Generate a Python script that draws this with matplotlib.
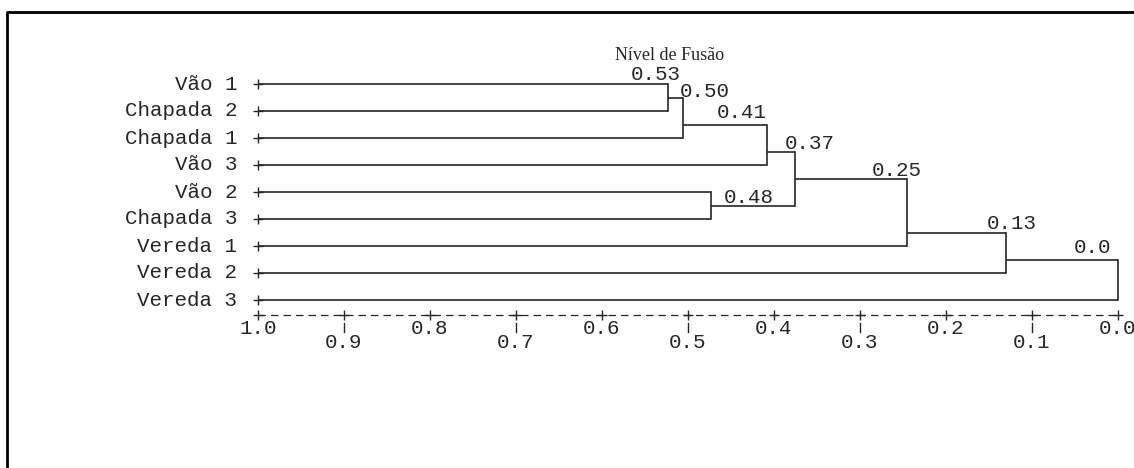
import matplotlib
matplotlib.use("Agg")
import matplotlib.pyplot as plt
from matplotlib.lines import Line2D

# leaves, top to bottom
leaves = ["Vão 1", "Chapada 2", "Chapada 1", "Vão 3", "Vão 2",
          "Chapada 3", "Vereda 1", "Vereda 2", "Vereda 3"]

# merges: (child a, child b) -- new clusters numbered from 9 on
merge_pairs = [(0, 1), (9, 2), (10, 3), (4, 5), (11, 12), (13, 6), (14, 7), (15, 8)]
fusion_levels = [0.523, 0.506, 0.408, 0.473, 0.376, 0.245, 0.130, 0.0]
# level printed next to each merge
fusion_labels = ["0.53", "0.50", "0.41", "0.48", "0.37", "0.25", "0.13", "0.0"]

ticks = [1.0, 0.9, 0.8, 0.7, 0.6, 0.5, 0.4, 0.3, 0.2, 0.1, 0.0]
tick_labels = ["1.0", "0.9", "0.8", "0.7", "0.6", "0.5", "0.4", "0.3", "0.2", "0.1", "0.0"]

# layout: row where each merged cluster leaves its junction (text-mode style)
junction_rows = [0.5, 1.5, 2.5, 4.5, 3.5, 5.5, 6.5, None]
# layout: where each fusion label sits (x in scale units, y in rows)
label_pos = [(0.537, -0.37), (0.480, 0.26), (0.438, 1.07), (0.429, 4.19),
             (0.358, 2.19), (0.257, 3.22), (0.124, 5.15), (0.030, 6.07)]

W, H = 1134, 468
fig = plt.figure(figsize=(W / 100, H / 100), dpi=100)
ax = fig.add_axes([0, 0, 1, 1])
# 1.0 at x=258px, 0.0 at x=1118px; row 0 at y=84px, 27px per row
ax.set_xlim(1.0 + 258 / 860, 0.0 - (W - 1118) / 860)
ax.set_ylim((H - 84) / 27, -84 / 27)
ax.axis("off")

mono = "Liberation Mono"
ink = "#262626"
fs = 15

# position of every cluster: (row, x where its line starts)
pos = {i: (i, 1.0) for i in range(len(leaves))}
for k, ((a, b), lev) in enumerate(zip(merge_pairs, fusion_levels)):
    ya, xa = pos[a]
    yb, xb = pos[b]
    ax.plot([xa, lev], [ya, ya], color=ink, lw=1.2, solid_capstyle="butt")
    ax.plot([xb, lev], [yb, yb], color=ink, lw=1.2, solid_capstyle="butt")
    ax.plot([lev, lev], [ya, yb], color=ink, lw=1.2)
    if junction_rows[k] is not None:
        pos[len(leaves) + k] = (junction_rows[k], lev)
    lx, ly = label_pos[k]
    ax.text(lx, ly, fusion_labels[k], family=mono, fontsize=fs, color=ink,
            ha="center", va="center")

# leaf names with a '+' at the line start
for i, name in enumerate(leaves):
    ax.text(1.024, i, name, family=mono, fontsize=fs, color=ink,
            ha="right", va="center")
    ax.plot([1.0], [i], marker="+", ms=7, mew=1.0, color=ink)

# text-style scale: +-----+-----+
axis_row = 8.56
ax.plot([ticks[0], ticks[-1]], [axis_row, axis_row], color=ink, lw=0.9,
        dashes=(6, 4))
ax.plot(ticks, [axis_row] * len(ticks), ls="none", marker="+", ms=7, mew=1.0,
        color=ink)
for j, (t, lab) in enumerate(zip(ticks, tick_labels)):
    if j % 2 == 0:
        ax.text(t, 9.05, lab, family=mono, fontsize=fs, color=ink,
                ha="center", va="center")
    else:
        ax.plot([t, t], [8.87, 9.2], color=ink, lw=1.0)
        ax.text(t, 9.57, lab, family=mono, fontsize=fs, color=ink,
                ha="center", va="center")

ax.text(0.521, -1.04, "Nível de Fusão", family="Liberation Serif", fontsize=13,
        color=ink, ha="center", va="center")

# frame (top and left only visible)
fig.add_artist(Line2D([7 / W, 7 / W, 1.0], [0.0, 1 - 12 / H, 1 - 12 / H],
                      transform=fig.transFigure, color="black", lw=2.0))

fig.savefig("out.png", dpi=100, facecolor="white")
